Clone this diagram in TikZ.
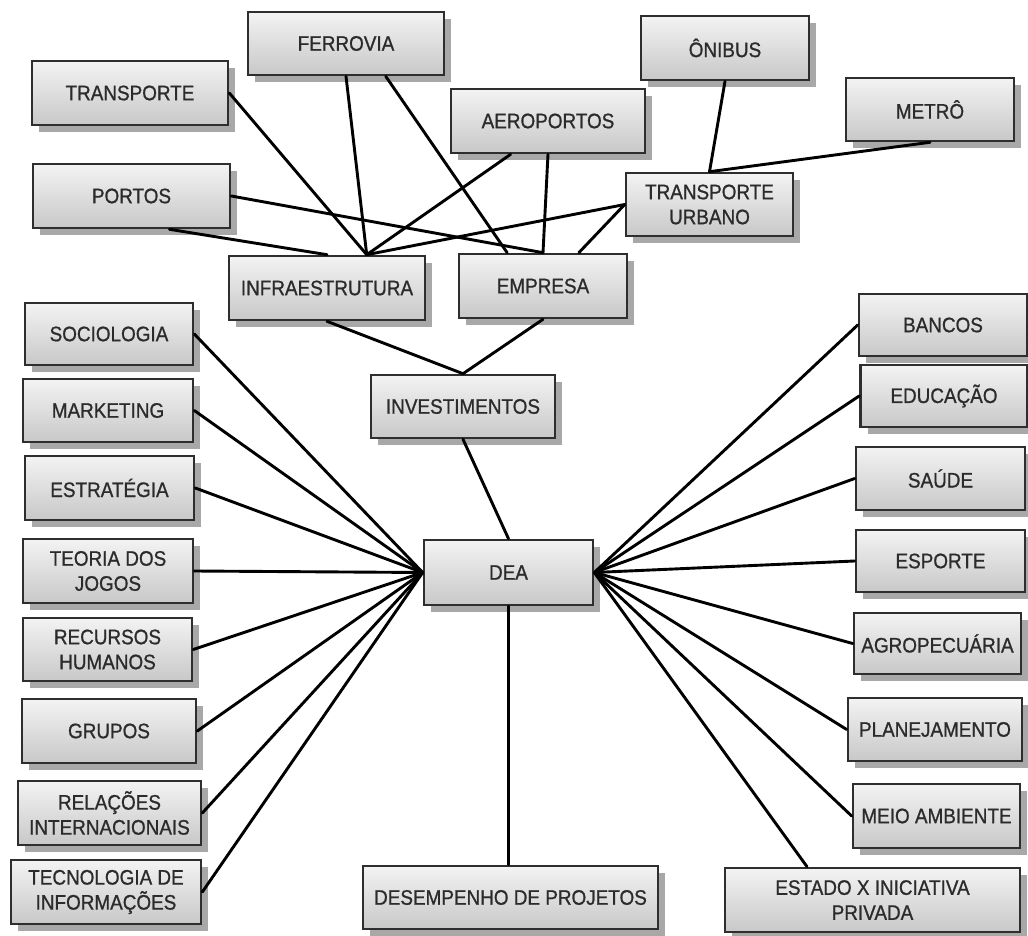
\documentclass[tikz,border=0pt]{standalone}
\usepackage{fontspec}
\setmainfont{Liberation Sans}[FakeStretch=0.9,FakeBold=0.9]
\usetikzlibrary{shadows,calc}
\definecolor{txt}{HTML}{2B2B2B}
\definecolor{boxline}{HTML}{2E2E2E}
\definecolor{boxtop}{HTML}{F3F3F3}
\definecolor{boxbot}{HTML}{C8C8C8}
\definecolor{shadowc}{HTML}{A8A8A8}
\begin{document}
\begin{tikzpicture}[x=1pt,y=-1pt,
  bx/.style={rectangle, draw=boxline, line width=2.6pt, top color=boxtop, bottom color=boxbot,
    drop shadow={shadow xshift=7pt, shadow yshift=-7pt, fill=shadowc, opacity=1},
    inner sep=0pt, align=center, text=txt, font=\fontsize{21}{25}\selectfont},
  ln/.style={line width=2.9pt, draw=black, line cap=round}]
\useasboundingbox (0,0) rectangle (1028,936);
% top cluster
\node[bx, minimum width=196pt, minimum height=64pt] (transporte) at (130,93) {TRANSPORTE};
\node[bx, minimum width=196pt, minimum height=63pt] (ferrovia) at (346,43.5) {FERROVIA};
\node[bx, minimum width=197pt, minimum height=64pt] (portos) at (131.5,196) {PORTOS};
\node[bx, minimum width=196pt, minimum height=64pt] (infra) at (327,288) {INFRAESTRUTURA};
\node[bx, minimum width=194pt, minimum height=64pt] (aeroportos) at (548,121) {AEROPORTOS};
\node[bx, minimum width=168pt, minimum height=64pt] (empresa) at (543,286) {EMPRESA};
\node[bx, minimum width=168pt, minimum height=64pt] (onibus) at (725,48) {ÔNIBUS};
\node[bx, minimum width=168pt, minimum height=63pt] (metro) at (930,109.5) {METRÔ};
\node[bx, minimum width=167pt, minimum height=63pt] (tu) at (709.5,204.5) {TRANSPORTE\\URBANO};
\node[bx, minimum width=184pt, minimum height=63pt] (investimentos) at (463,406.5) {INVESTIMENTOS};
\node[bx, minimum width=169pt, minimum height=65pt] (dea) at (508.5,572.5) {DEA};
\node[bx, minimum width=295pt, minimum height=63pt] (desempenho) at (510.5,897.5) {DESEMPENHO DE PROJETOS};
% left column
\node[bx, minimum width=168pt, minimum height=62pt] (sociologia) at (109,334) {SOCIOLOGIA};
\node[bx, minimum width=170pt, minimum height=63pt] (marketing) at (108,410.5) {MARKETING};
\node[bx, minimum width=169pt, minimum height=64pt] (estrategia) at (109.5,488) {ESTRATÉGIA};
\node[bx, minimum width=170pt, minimum height=64pt] (teoria) at (108,571) {TEORIA DOS\\JOGOS};
\node[bx, minimum width=169pt, minimum height=63pt] (recursos) at (107.5,649.5) {RECURSOS\\HUMANOS};
\node[bx, minimum width=174pt, minimum height=64pt] (grupos) at (109,731) {GRUPOS};
\node[bx, minimum width=183pt, minimum height=64pt] (relacoes) at (109.5,813) {RELAÇÕES\\INTERNACIONAIS};
\node[bx, minimum width=190pt, minimum height=64pt] (tecnologia) at (106,892) {TECNOLOGIA DE\\INFORMAÇÕES};
% right column
\node[bx, minimum width=168pt, minimum height=62pt] (bancos) at (943,325) {BANCOS};
\node[bx, minimum width=167pt, minimum height=62pt] (educacao) at (944,396) {EDUCAÇÃO};
\node[bx, minimum width=169pt, minimum height=63pt] (saude) at (940.5,478.5) {SAÚDE};
\node[bx, minimum width=169pt, minimum height=62pt] (esporte) at (940.5,561) {ESPORTE};
\node[bx, minimum width=167pt, minimum height=61pt] (agro) at (937.5,643.5) {AGROPECUÁRIA};
\node[bx, minimum width=174pt, minimum height=63pt] (planejamento) at (935,729.5) {PLANEJAMENTO};
\node[bx, minimum width=167pt, minimum height=64pt] (meio) at (936.5,816) {MEIO AMBIENTE};
\node[bx, minimum width=295pt, minimum height=64pt] (estado) at (872.5,900) {ESTADO X INICIATIVA\\PRIVADA};
% anchor points
\coordinate (infraC) at ($(infra.north west)!0.70!(infra.north east)$);
\coordinate (empL) at ($(empresa.north west)!0.29!(empresa.north east)$);
\coordinate (empR) at ($(empresa.north west)!0.71!(empresa.north east)$);
\coordinate (ferR) at ($(ferrovia.south west)!0.70!(ferrovia.south east)$);
\coordinate (aerL) at ($(aeroportos.south west)!0.31!(aeroportos.south east)$);
\coordinate (porB) at ($(portos.south west)!0.69!(portos.south east)$);
\coordinate (estT) at ($(estado.north west)!0.28!(estado.north east)$);
% connectors
\draw[ln] (transporte.east) -- (infraC);
\draw[ln] (ferrovia.south) -- (infraC);
\draw[ln] (aerL) -- (infraC);
\draw[ln] (tu.west) -- (infraC);
\draw[ln] (tu.west) -- (empR);
\draw[ln] (ferR) -- (empL);
\draw[ln] (portos.east) -- (empresa.north);
\draw[ln] (porB) -- (infra.north);
\draw[ln] (aeroportos.south) -- (empresa.north);
\draw[ln] (onibus.south) -- (tu.north);
\draw[ln] (metro.south) -- (tu.north);
\draw[ln] (infra.south) -- (investimentos.north);
\draw[ln] (empresa.south) -- (investimentos.north);
\draw[ln] (investimentos.south) -- (dea.north);
\draw[ln] (dea.south) -- (dea.south |- desempenho.north);
\foreach \n in {sociologia,marketing,estrategia,teoria,recursos,grupos,relacoes,tecnologia}
  \draw[ln] (\n.east) -- (dea.west);
\foreach \n in {bancos,educacao,saude,esporte,agro,planejamento,meio}
  \draw[ln] (dea.east) -- (\n.west);
\draw[ln] (dea.east) -- (estT);
\end{tikzpicture}
\end{document}
